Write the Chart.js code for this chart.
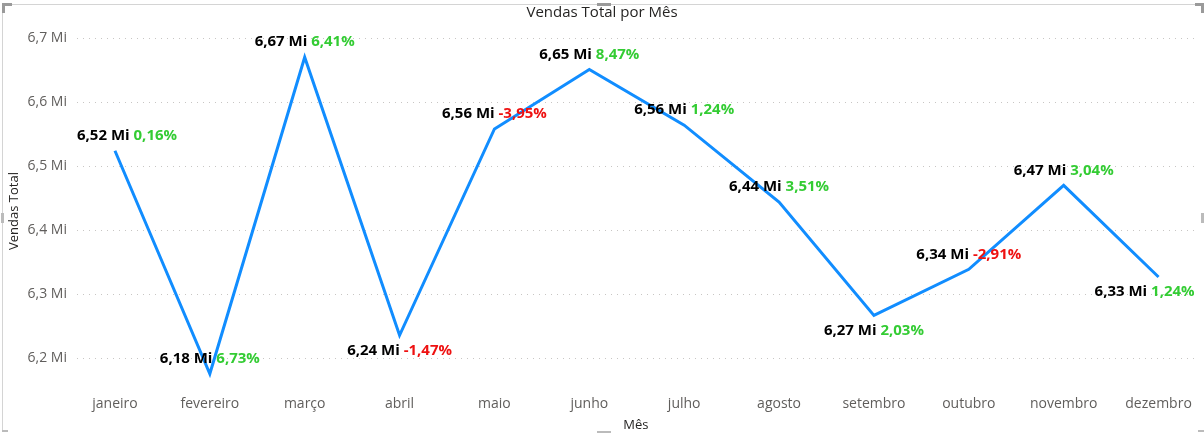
<!DOCTYPE html>
<html>
<head>
<meta charset="utf-8">
<script src="https://cdn.jsdelivr.net/npm/chart.js@4.4.1/dist/chart.umd.min.js"></script>
<style>
  html, body { margin: 0; padding: 0; background: #fff; }
  #wrap { position: relative; width: 1204px; height: 435px; overflow: hidden; }
  canvas { position: absolute; left: 0; top: 0; }
  .f { position: absolute; background: #d4d4d4; }
  .h { position: absolute; background: #9a9a9a; }
</style>
</head>
<body>
<div id="wrap">
  <canvas id="c" width="1204" height="435"></canvas>
  <div class="f" style="left:4px;top:4px;width:1196px;height:1px;"></div>
  <div class="f" style="left:2px;top:4px;width:1px;height:428px;"></div>
  <div class="h" style="left:2px;top:3px;width:10px;height:3px;"></div>
  <div class="h" style="left:2px;top:3px;width:3px;height:10px;"></div>
  <div class="h" style="left:1195px;top:3px;width:9px;height:3px;"></div>
  <div class="h" style="left:1201px;top:3px;width:3px;height:10px;"></div>
  <div class="h" style="left:597px;top:3px;width:14px;height:3px;"></div>
  <div class="h" style="left:597px;top:431px;width:14px;height:2px;background:#bbb;"></div>
  <div class="h" style="left:1px;top:213px;width:3px;height:10px;background:#bbb;"></div>
  <div class="h" style="left:1201px;top:213px;width:3px;height:10px;background:#bbb;"></div>
  <div class="h" style="left:2px;top:430px;width:6px;height:2px;background:#bbb;"></div>
  <div class="h" style="left:1198px;top:430px;width:6px;height:2px;background:#bbb;"></div>
</div>
<script>
const months = ['janeiro','fevereiro','março','abril','maio','junho','julho','agosto','setembro','outubro','novembro','dezembro'];
const salesMi = [6.524, 6.176, 6.670, 6.236, 6.558, 6.651, 6.564, 6.444, 6.267, 6.339, 6.470, 6.327];
const changePct = [0.16, 6.73, 6.41, -1.47, -3.95, 8.47, 1.24, 3.51, 2.03, -2.91, 3.04, 1.24];
const yTicks = [6.2, 6.3, 6.4, 6.5, 6.6, 6.7];

const labelBelow = [false, false, false, true, false, false, false, false, true, false, false, true];

const FONT = "'Segoe UI', 'Open Sans', 'Noto Sans', sans-serif";
const fmt = (v, d) => v.toFixed(d).replace('.', ',');

const labelPlugin = {
  id: 'valueLabels',
  afterDatasetsDraw(chart) {
    const ctx = chart.ctx;
    const meta = chart.getDatasetMeta(0);
    const area = chart.chartArea;
    ctx.save();
    ctx.font = "bold 15px " + FONT;
    ctx.textBaseline = 'middle';
    ctx.textAlign = 'left';
    meta.data.forEach((pt, i) => {
      const t1 = fmt(salesMi[i], 2) + ' Mi ';
      const t2 = fmt(changePct[i], 2) + '%';
      const w1 = ctx.measureText(t1).width;
      const w2 = ctx.measureText(t2).width;
      const w = w1 + w2;
      let x = pt.x - w / 2;
      if (x < area.left) x = area.left;
      if (x + w > area.right) x = area.right - w;
      const y = labelBelow[i] ? pt.y + 15 : pt.y - 15;
      ctx.fillStyle = '#000000';
      ctx.fillText(t1, x, y);
      ctx.fillStyle = changePct[i] < 0 ? '#ee1111' : '#33cc33';
      ctx.fillText(t2, x + w1, y);
    });
    ctx.restore();
  }
};

new Chart(document.getElementById('c'), {
  type: 'line',
  data: {
    datasets: [{
      data: salesMi.map((v, i) => ({ x: i, y: v })),
      borderColor: '#118DFF',
      borderWidth: 3,
      pointRadius: 0,
      tension: 0,
      fill: false
    }]
  },
  options: {
    responsive: false,
    animation: false,
    events: [],
    layout: { padding: { left: 6, right: 6, top: 0, bottom: 0 } },
    plugins: {
      legend: { display: false },
      tooltip: { enabled: false },
      title: {
        display: true,
        text: 'Vendas Total por Mês',
        color: '#252423',
        font: { family: FONT, size: 15, weight: 'normal' },
        padding: { top: 4, bottom: 16 }
      }
    },
    scales: {
      x: {
        type: 'linear',
        min: -0.4,
        max: 11.38,
        afterBuildTicks(scale) {
          scale.ticks = months.map((m, i) => ({ value: i }));
        },
        afterFit(scale) { scale.height = 51; },
        ticks: {
          autoSkip: false,
          maxRotation: 0,
          padding: 12,
          color: '#605E5C',
          font: { family: FONT, size: 14 },
          callback: (v) => months[v]
        },
        grid: { display: false, drawTicks: false },
        border: { display: false },
        title: {
          display: true,
          text: 'Mês',
          color: '#252423',
          font: { family: FONT, size: 13 },
          padding: { top: 0, bottom: 2 }
        }
      },
      y: {
        min: 6.16,
        max: 6.7,
        afterBuildTicks(scale) {
          scale.ticks = yTicks.map(v => ({ value: v }));
        },
        afterFit(scale) { scale.width = 71; },
        ticks: {
          padding: 10,
          color: '#605E5C',
          font: { family: FONT, size: 14 },
          callback: (v) => fmt(v, 1) + ' Mi'
        },
        grid: {
          drawTicks: false,
          color: '#c8c6c4',
          lineWidth: 1
        },
        border: { display: false, dash: [1, 5] },
        title: {
          display: true,
          text: 'Vendas Total',
          color: '#252423',
          font: { family: FONT, size: 13 },
          padding: { top: 0, bottom: 0 }
        }
      }
    }
  },
  plugins: [labelPlugin]
});
</script>
</body>
</html>
